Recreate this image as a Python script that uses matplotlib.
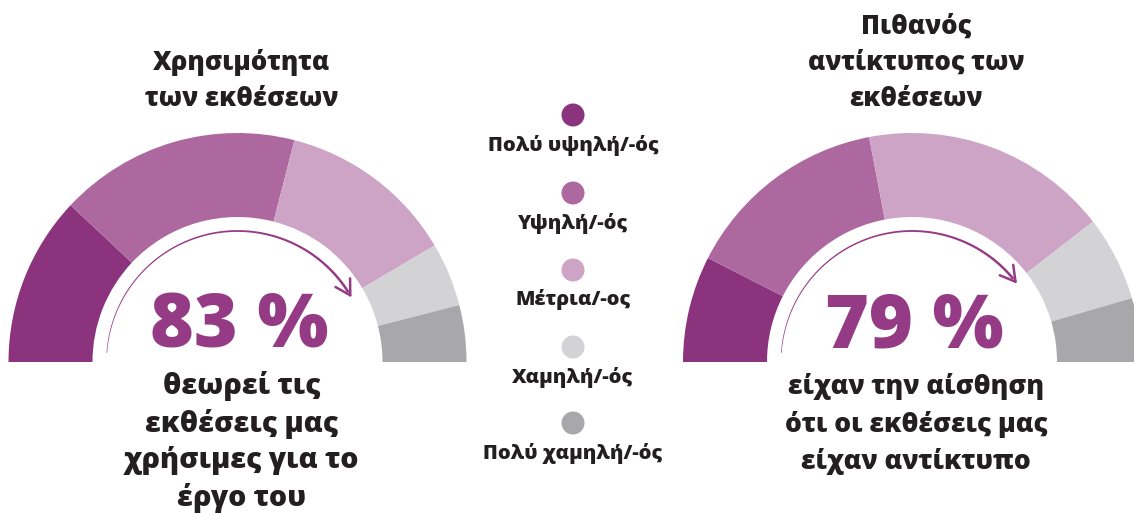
import numpy as np
import matplotlib.pyplot as plt
from matplotlib.patches import Wedge, Circle, Polygon

plt.rcParams['font.family'] = ['Open Sans', 'DejaVu Sans']

# data (share of respondents, %)
categories = ['Πολύ υψηλή/-ός', 'Υψηλή/-ός', 'Μέτρια/-ος', 'Χαμηλή/-ός', 'Πολύ χαμηλή/-ός']
usefulness = [24, 34, 25, 9, 8]
impact = [15, 29, 35, 12, 9]
colors = ['#8c337d', '#ad689f', '#cda3c6', '#d3d3d5', '#a8a8ab']

titles = ['Χρησιμότητα\nτων εκθέσεων', 'Πιθανός\nαντίκτυπος των\nεκθέσεων']
notes = ['θεωρεί τις\nεκθέσεις μας\nχρήσιμες για το\nέργο του',
         'είχαν την αίσθηση\nότι οι εκθέσεις μας\nείχαν αντίκτυπο']

PURPLE = '#953b85'
DARK = '#231f20'
H = 513
W = 800  # heavy weight

fig = plt.figure(figsize=(11.34, 5.13), dpi=100)
ax = fig.add_axes([0, 0, 1, 1])
ax.set_xlim(0, 1134)
ax.set_ylim(0, H)
ax.axis('off')


def gauge(cx, values, title, note, note_fs, note_ls, note_top):
    cy = H - 362
    r_out, r_in = 229, 145
    total = float(sum(values))
    start = 180.0
    for v, c in zip(values, colors):
        span = v / total * 180.0
        ax.add_patch(Wedge((cx, cy), r_out, start - span, start, width=r_out - r_in,
                           facecolor=c, edgecolor='none'))
        start -= span

    # share of the top three answers
    top = sum(values[:3]) / total * 100
    end = 180.0 - top * 1.8

    # tapered arrow along the inner side
    r = 131
    th = np.radians(np.linspace(176, end + 1.5, 120))
    w = np.linspace(0.3, 1.3, th.size)
    outer = np.column_stack([cx + (r + w) * np.cos(th), cy + (r + w) * np.sin(th)])
    inner = np.column_stack([cx + (r - w) * np.cos(th), cy + (r - w) * np.sin(th)])
    ax.add_patch(Polygon(np.vstack([outer, inner[::-1]]), closed=True,
                         facecolor=PURPLE, edgecolor='none'))
    te = np.radians(end)
    tip = np.array([cx + r * np.cos(te), cy + r * np.sin(te)])
    d = np.array([np.sin(te), -np.cos(te)])
    for s in (1, -1):
        a = np.radians(150 * s)
        rot = np.array([[np.cos(a), -np.sin(a)], [np.sin(a), np.cos(a)]])
        p = tip + rot @ d * 17
        ax.plot([tip[0], p[0]], [tip[1], p[1]], color=PURPLE, lw=1.8,
                solid_capstyle='round')

    ax.text(cx + 2, H - 328, f'{top:.0f} %', ha='center', va='center',
            fontsize=54, fontweight=W, color=PURPLE)
    ax.text(cx + 4, H - note_top, note, ha='center', va='top', fontsize=note_fs,
            fontweight=W, color=DARK, linespacing=note_ls)
    ax.text(cx + 4, H - 112, title, ha='center', va='bottom', fontsize=18.5,
            fontweight=W, color=DARK, linespacing=1.5)


gauge(237.5, usefulness, titles[0], notes[0], 20.5, 1.34, 371)
gauge(912, impact, titles[1], notes[1], 19, 1.5, 373)

# legend in the middle
dot_y = [115, 193, 270, 347, 423]
for lab, c, y in zip(categories, colors, dot_y):
    ax.add_patch(Circle((573, H - y), 11.5, facecolor=c, edgecolor='none'))
    ax.text(573, H - y - 30, lab, ha='center', va='center', fontsize=14.5,
            fontweight=W, color=DARK)

fig.savefig('out.png', dpi=100, facecolor='white')
